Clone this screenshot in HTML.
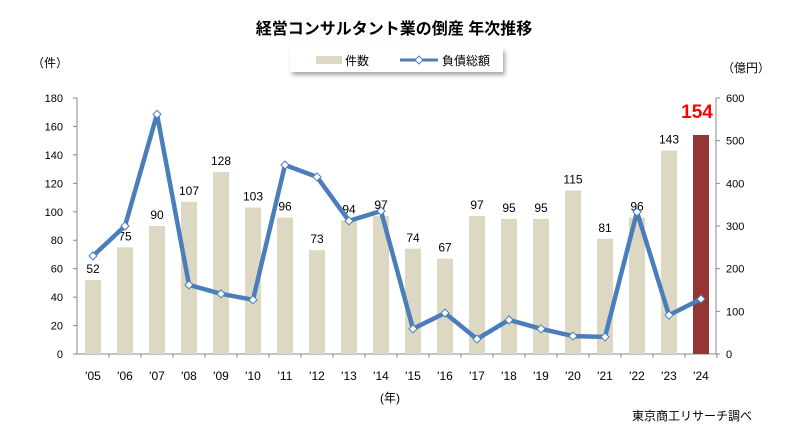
<!DOCTYPE html>
<html><head><meta charset="utf-8"><style>
body{margin:0;background:#fff;}
svg text{font-family:"Liberation Sans","Noto Sans CJK JP",sans-serif;}
</style></head><body>
<svg width="788" height="438" xmlns="http://www.w3.org/2000/svg">
<defs><filter id="sh" x="-10%" y="-20%" width="130%" height="180%"><feDropShadow dx="2" dy="3" stdDeviation="2" flood-color="#000" flood-opacity="0.35"/></filter></defs>
<text x="394" y="34" text-anchor="middle" font-size="16" font-weight="bold" fill="#000">経営コンサルタント業の倒産 年次推移</text>
<rect x="290" y="48" width="213" height="24" fill="#fff" filter="url(#sh)"/>
<rect x="316" y="56" width="26" height="8" fill="#ddd8c4"/>
<text x="345" y="65" font-size="12">件数</text>
<line x1="400" y1="60" x2="438" y2="60" stroke="#4a7ebb" stroke-width="3"/>
<path d="M419 56 L423 60 L419 64 L415 60Z" fill="#fff" stroke="#4a7ebb"/>
<text x="442" y="65" font-size="12">負債総額</text>
<text x="32" y="67" font-size="12">（件）</text>
<text x="722" y="72" font-size="12">（億円）</text>
<line x1="77" y1="98" x2="77" y2="354" stroke="#888"/>
<line x1="716" y1="98" x2="716" y2="354" stroke="#888"/>
<line x1="77" y1="354" x2="716" y2="354" stroke="#888"/>
<g id="g"></g>
<text x="390" y="402" font-size="12" text-anchor="middle">(年)</text>
<text x="692" y="420" font-size="12" text-anchor="middle">東京商工リサーチ調べ</text>
<script>
var ns="http://www.w3.org/2000/svg",g=document.getElementById("g");
function el(t,a,txt){var e=document.createElementNS(ns,t);for(var k in a)e.setAttribute(k,a[k]);if(txt!=null)e.textContent=txt;g.appendChild(e);return e;}
for(var v=0;v<=180;v+=20){var y=354-v*256/180;el("line",{x1:73,y1:y,x2:77,y2:y,stroke:"#888"});el("text",{x:63,y:y+4,"font-size":11,"text-anchor":"end"},v);}
for(var v=0;v<=600;v+=100){var y=354-v*256/600;el("line",{x1:716,y1:y,x2:720,y2:y,stroke:"#888"});el("text",{x:726,y:y+4,"font-size":11},v);}
var c=[52,75,90,107,128,103,96,73,94,97,74,67,97,95,95,115,81,96,143,154];
var d=[230,300,562,162,141,127,443,415,312,335,59,96,35,80,59,42,40,333,91,129];
var pts=[];
for(var i=0;i<20;i++){var x=93+32*i,h=c[i]*256/180;
el("rect",{x:x-8,y:354-h,width:16,height:h,fill:i==19?"#943634":"#ddd8c4"});
el("line",{x1:77+32*(i+1),y1:354,x2:77+32*(i+1),y2:358,stroke:"#888"});
var yr=(i+5<10?"0":"")+(i+5);
el("text",{x:x,y:380,"font-size":12,"text-anchor":"middle"},"'"+yr);
if(i<19)el("text",{x:x,y:354-h-7,"font-size":12,"text-anchor":"middle"},c[i]);
pts.push(x+","+(354-d[i]*256/600));}
el("text",{x:697,y:118,"font-size":19,"font-weight":"bold","fill":"#ff0000","text-anchor":"middle"},"154");
el("polyline",{points:pts.join(" "),fill:"none",stroke:"#4a7ebb","stroke-width":4.5,"stroke-linejoin":"round"});
for(var i=0;i<20;i++){var x=93+32*i,y=354-d[i]*256/600;el("path",{d:"M"+x+" "+(y-4)+"L"+(x+4)+" "+y+"L"+x+" "+(y+4)+"L"+(x-4)+" "+y+"Z",fill:"#fff",stroke:"#4a7ebb","stroke-width":1});}
</script>
</svg>
</body></html>
